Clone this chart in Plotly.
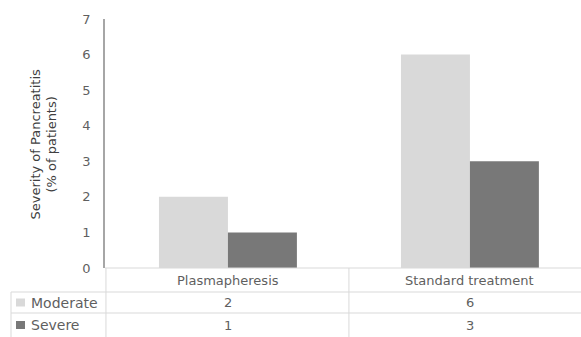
import plotly.graph_objects as go

# Severity of pancreatitis by treatment arm
categories = ["Plasmapheresis", "Standard treatment"]
series_names = ["Moderate", "Severe"]
moderate = [2, 6]
severe = [1, 3]
y_ticks = [0, 1, 2, 3, 4, 5, 6, 7]

series_values = [moderate, severe]
colors = ["#d9d9d9", "#787878"]
text_color = "#5f5f5f"
grid_color = "#d9d9d9"
font_family = "'DejaVu Sans', sans-serif"

W, H = 581, 337
L, R, T, B = 105, 0, 19, 69
plot_w = W - L - R
plot_h = H - T - B

def px_to_paper_y(py):
    return (H - B - py) / plot_h

def px_to_paper_x(px):
    return (px - L) / plot_w

x_pos = list(range(len(categories)))

fig = go.Figure()
for name, vals, col in zip(series_names, series_values, colors):
    fig.add_trace(go.Bar(
        x=x_pos, y=vals, name=name,
        marker=dict(color=col, line=dict(width=0)),
        showlegend=False,
    ))

shapes = []
annotations = []

# Data table under the plot
row_tops = [H - B, 292, 313, 337]
row_centers = [(row_tops[i] + row_tops[i + 1]) / 2 for i in range(3)]
left_px = 11

# horizontal rules
for py in [292, 313]:
    shapes.append(dict(type="line", xref="paper", yref="paper",
                       x0=px_to_paper_x(left_px), x1=1,
                       y0=px_to_paper_y(py), y1=px_to_paper_y(py),
                       line=dict(color=grid_color, width=1)))
# left border of the legend column
shapes.append(dict(type="line", xref="paper", yref="paper",
                   x0=px_to_paper_x(left_px), x1=px_to_paper_x(left_px),
                   y0=px_to_paper_y(292), y1=px_to_paper_y(337),
                   line=dict(color=grid_color, width=1)))
# vertical rule continuing the value axis through the table
shapes.append(dict(type="line", xref="paper", yref="paper",
                   x0=0.002, x1=0.002, y0=0, y1=px_to_paper_y(337),
                   line=dict(color=grid_color, width=1)))
# dividers between categories
for i in range(len(categories) - 1):
    xd = i + 0.5
    shapes.append(dict(type="line", xref="x", yref="paper",
                       x0=xd, x1=xd, y0=0, y1=px_to_paper_y(337),
                       line=dict(color=grid_color, width=1)))

# category header row
for xi, cat in zip(x_pos, categories):
    annotations.append(dict(x=xi, y=px_to_paper_y(row_centers[0]), xref="x", yref="paper",
                            xanchor="center", yanchor="middle",
                            text=cat, showarrow=False,
                            font=dict(family=font_family, size=13, color=text_color)))
# value rows with legend keys
for r, (name, vals, col) in enumerate(zip(series_names, series_values, colors)):
    cy = row_centers[r + 1]
    yc = px_to_paper_y(cy)
    for xi, v in zip(x_pos, vals):
        annotations.append(dict(x=xi, y=yc, xref="x", yref="paper",
                                xanchor="center", yanchor="middle",
                                text=str(v), showarrow=False,
                                font=dict(family=font_family, size=13, color=text_color)))
    annotations.append(dict(x=px_to_paper_x(29), y=yc, xref="paper", yref="paper",
                            xanchor="left", yanchor="middle", text=name, showarrow=False,
                            font=dict(family=font_family, size=14, color=text_color)))
    shapes.append(dict(type="rect", xref="paper", yref="paper",
                       x0=px_to_paper_x(16), x1=px_to_paper_x(25),
                       y0=px_to_paper_y(cy + 4), y1=px_to_paper_y(cy - 4),
                       fillcolor=col, line=dict(width=0)))

# value axis title
annotations.append(dict(x=px_to_paper_x(43), y=0.5, xref="paper", yref="paper",
                        xanchor="center", yanchor="middle",
                        text="Severity of Pancreatitis<br>(% of patients)",
                        textangle=-90, showarrow=False,
                        font=dict(family=font_family, size=13, color="#404040")))

fig.update_layout(
    width=W, height=H,
    margin=dict(l=L, r=R, t=T, b=B, pad=0),
    paper_bgcolor="white", plot_bgcolor="white",
    barmode="group", bargap=0.43, bargroupgap=0,
    shapes=shapes, annotations=annotations,
    xaxis=dict(range=[-0.508, 1.459], showticklabels=False, showgrid=False,
               zeroline=False, showline=False, fixedrange=True),
    yaxis=dict(range=[0, 7], tickvals=y_ticks, showgrid=False, zeroline=False,
               showline=True, linecolor="#a6a6a6", linewidth=1.5,
               ticks="", ticklabelstandoff=10,
               tickfont=dict(family=font_family, size=13, color=text_color)),
)
# baseline of the plot
fig.add_shape(type="line", xref="paper", yref="paper", x0=0, x1=1, y0=0, y1=0,
              line=dict(color=grid_color, width=1))

fig.write_html("out.html")
